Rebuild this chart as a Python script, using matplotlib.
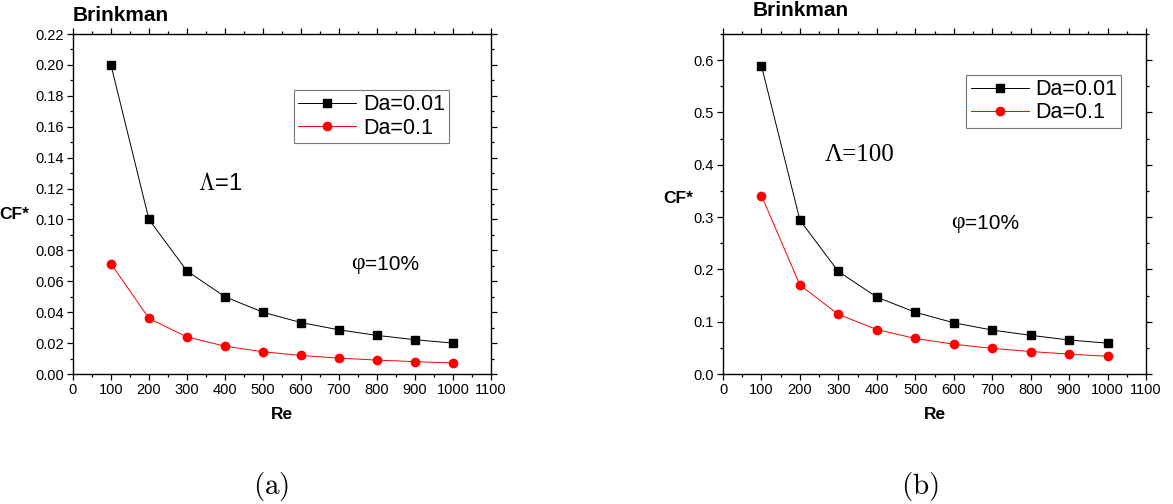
import matplotlib
matplotlib.use("Agg")
import matplotlib.pyplot as plt
from matplotlib.ticker import MultipleLocator

plt.rcParams['font.family'] = ['Liberation Sans', 'DejaVu Sans']
plt.rcParams['mathtext.fontset'] = 'cm'

re = [100, 200, 300, 400, 500, 600, 700, 800, 900, 1000]

# (a) Lambda = 1
cf_a_da001 = [0.200, 0.100, 0.0667, 0.050, 0.040, 0.0333, 0.0286, 0.025, 0.0222, 0.020]
cf_a_da01 = [0.0714, 0.036, 0.024, 0.018, 0.0144, 0.012, 0.0103, 0.009, 0.008, 0.0072]

# (b) Lambda = 100
cf_b_da001 = [0.589, 0.294, 0.196, 0.147, 0.118, 0.098, 0.084, 0.074, 0.065, 0.059]
cf_b_da01 = [0.341, 0.170, 0.114, 0.085, 0.068, 0.057, 0.049, 0.043, 0.038, 0.034]

labels = ['Da=0.01', 'Da=0.1']

fig = plt.figure(figsize=(11.73, 5.04), dpi=100)
ax_a = fig.add_axes([0.0622, 0.2579, 0.3563, 0.6746])
ax_b = fig.add_axes([0.6164, 0.2579, 0.3606, 0.6746])


def style_axes(ax, ymax, ymajor, yminor, yfmt):
    ax.set_xlim(0, 1100)
    ax.set_ylim(0, ymax)
    ax.xaxis.set_major_locator(MultipleLocator(100))
    ax.xaxis.set_minor_locator(MultipleLocator(50))
    ax.yaxis.set_major_locator(MultipleLocator(ymajor))
    ax.yaxis.set_minor_locator(MultipleLocator(yminor))
    ax.yaxis.set_major_formatter(yfmt)
    ax.tick_params(which='both', direction='out', labelsize=10.5, width=0.9,
                   top=True, right=True, pad=2.5)
    ax.tick_params(which='major', length=4)
    ax.tick_params(which='minor', length=2.5)
    for spine in ax.spines.values():
        spine.set_linewidth(1.0)
    ax.set_xlabel('Re', fontsize=12.5, fontweight='bold', labelpad=7)


def draw(ax, y1, y2):
    ax.plot(re, y1, color='black', lw=0.7, marker='s', ms=5.5, label=labels[0])
    ax.plot(re, y2, color='red', lw=0.7, marker='o', ms=6, label=labels[1])
    leg = ax.legend(fontsize=15.5, frameon=True, fancybox=False, handlelength=2.7,
                    borderpad=0.2, labelspacing=0.1, handletextpad=0.3,
                    borderaxespad=0, loc='upper left')
    leg.get_frame().set_edgecolor('#555555')
    leg.get_frame().set_linewidth(0.8)
    return leg


def phi_label(ax, x, y):
    # upright serif phi followed by sans "=10%"
    t = ax.text(x, y, 'φ', transform=ax.transAxes, fontsize=17,
                ha='left', va='baseline', family='Liberation Serif')
    ax.annotate('=10%', xy=(1, 0), xycoords=t, fontsize=15,
                ha='left', va='bottom')


style_axes(ax_a, 0.22, 0.02, 0.01, '{x:.2f}')
leg = draw(ax_a, cf_a_da001, cf_a_da01)
leg.set_bbox_to_anchor((0.529, 0.835), transform=ax_a.transAxes)
ax_a.text(-0.14, 0.47, 'CF*', transform=ax_a.transAxes, fontsize=12.5,
          fontweight='bold', ha='center', va='center')
ax_a.text(0.0, 1.028, 'Brinkman', transform=ax_a.transAxes, fontsize=15,
          fontweight='bold', ha='left', va='bottom')
ax_a.text(0.30, 0.56, r'$\Lambda$=1', transform=ax_a.transAxes, fontsize=17,
          ha='left', va='center')
phi_label(ax_a, 0.665, 0.31)

style_axes(ax_b, 0.65, 0.1, 0.05, '{x:.1f}')
leg = draw(ax_b, cf_b_da001, cf_b_da01)
leg.set_bbox_to_anchor((0.575, 0.88), transform=ax_b.transAxes)
ax_b.text(-0.105, 0.515, 'CF*', transform=ax_b.transAxes, fontsize=12.5,
          fontweight='bold', ha='center', va='center')
ax_b.text(0.07, 1.04, 'Brinkman', transform=ax_b.transAxes, fontsize=15,
          fontweight='bold', ha='left', va='bottom')
ax_b.text(0.24, 0.645, 'Λ=100', transform=ax_b.transAxes, fontsize=18,
          ha='left', va='center', family='Liberation Serif')
phi_label(ax_b, 0.54, 0.43)

fig.text(0.231, 0.034, r'$\mathrm{(a)}$', fontsize=21, ha='center', va='center')
fig.text(0.784, 0.034, r'$\mathrm{(b)}$', fontsize=21, ha='center', va='center')

fig.savefig('out.png', dpi=100)
